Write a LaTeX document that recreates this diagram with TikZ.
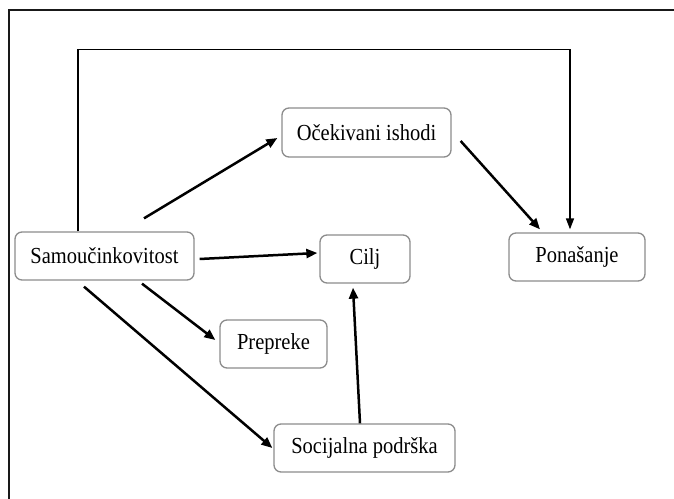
\documentclass[tikz,border=0pt]{standalone}
\usepackage{fontspec}
\setmainfont{Liberation Serif}
\usetikzlibrary{arrows.meta}
\newcommand{\vstretch}[1]{\scalebox{1}[1.12]{#1}}
\begin{document}
\begin{tikzpicture}[x=1pt,y=1pt,
  box/.style={draw=black!45, line width=1.3pt, rounded corners=7pt, fill=white,
    minimum height=48pt, inner sep=0pt, font=\fontsize{20.5}{24}\selectfont},
  arr/.style={line width=2.5pt, -{Triangle[length=11pt,width=9pt]}},
  arrthin/.style={line width=1.5pt, -{Triangle[length=11pt,width=8pt]}}]
\useasboundingbox (0,0) rectangle (674,498);
\begin{scope}
\clip (0,0) rectangle (674,498);
\draw[line width=2.3pt, black!90] (9,-10) -- (9,488) -- (700,488);
\end{scope}
\node[box, minimum width=179pt] (samo) at (104.5,242) {\vstretch{Samoučinkovitost}};
\node[box, minimum width=169pt, minimum height=49pt] (ocek) at (366.5,365.5) {\vstretch{Očekivani ishodi}};
\node[box, minimum width=90pt] (cilj) at (365,239) {\vstretch{Cilj}};
\node[box, minimum width=136pt] (pon) at (577,241) {\vstretch{Ponašanje}};
\node[box, minimum width=107pt] (prep) at (273.5,154) {\vstretch{Prepreke}};
\node[box, minimum width=181pt] (soc) at (364.5,50) {\vstretch{Socijalna podrška}};
\draw[arrthin] ([xshift=-26.5pt]samo.north) -- ++(0,182) -| ([shift={(-7,3)}]pon.north);
\draw[arr] ([shift={(39.5,13)}]samo.north) -- ([shift={(-4,-5.5)}]ocek.west);
\draw[arr] ([shift={(9,-8.5)}]ocek.east) -- ([shift={(-37,3)}]pon.north);
\draw[arr] ([shift={(5,-3)}]samo.east) -- ([shift={(-2,6)}]cilj.west);
\draw[arr] ([shift={(37.5,-3)}]samo.south) -- ([shift={(-4,4)}]prep.west);
\draw[arr] ([shift={(-20.5,-6)}]samo.south) -- ([shift={(-1,0)}]soc.west);
\draw[arr] ([shift={(-4.5,0)}]soc.north) -- ([shift={(-12,-4)}]cilj.south);
\end{tikzpicture}
\end{document}
